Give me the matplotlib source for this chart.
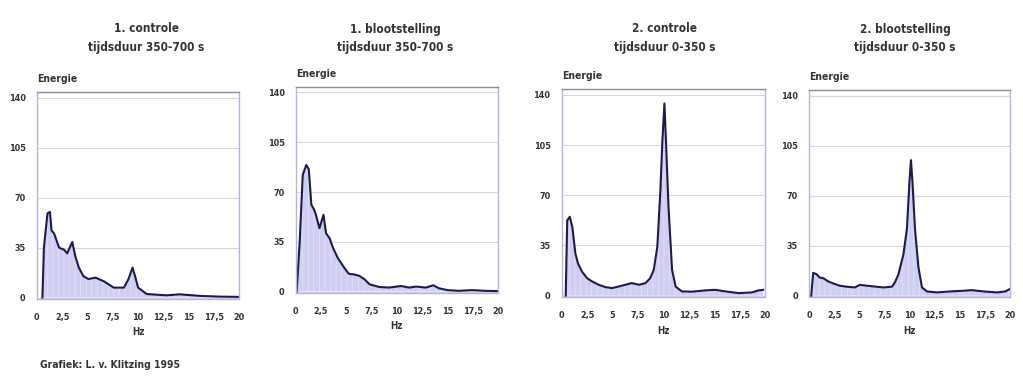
import matplotlib
matplotlib.use("Agg")
import matplotlib.pyplot as plt

plt.rcParams["font.family"] = ["DejaVu Sans"]
plt.rcParams["font.stretch"] = "condensed"
plt.rcParams["hatch.linewidth"] = 0.5

LINE, FILL, FRAME, TXT = "#1c1c4a", "#cfcff2", "#b4b4e2", "#333333"

titles = [("1. controle", "tijdsduur 350-700 s"), ("1. blootstelling", "tijdsduur 350-700 s"),
          ("2. controle", "tijdsduur 0-350 s"), ("2. blootstelling", "tijdsduur 0-350 s")]

# Hz / energie
hz1 = [0.55, 0.7, 1.05, 1.3, 1.45, 1.7, 2.2, 2.7, 3.0, 3.5, 3.8, 4.15, 4.6, 5.1, 5.8, 6.6,
       7.6, 8.6, 9.05, 9.45, 9.7, 10.0, 10.85, 12.8, 14.1, 16.1, 18.0, 19.9]
e1 = [0, 35, 59, 60, 47, 45, 35, 33.5, 31, 39, 29, 21, 15, 13, 14, 11.5,
      7, 7, 13, 21, 15, 7, 2.5, 1.6, 2.3, 1.2, 0.7, 0.5]

hz2 = [0.1, 0.4, 0.7, 1.05, 1.3, 1.55, 1.8, 2.0, 2.35, 2.75, 3.0, 3.35, 3.7, 4.15, 4.8,
       5.25, 5.8, 6.3, 6.8, 7.3, 8.25, 9.25, 10.4, 11.2, 11.9, 12.85, 13.6, 14.15, 15.0,
       16.1, 17.4, 18.75, 19.9]
e2 = [0, 35, 82, 89, 86, 61, 58, 54, 44.5, 54, 41, 37.5, 30.6, 23.7, 16.7,
      12.5, 12, 11, 8.6, 5.1, 3.2, 2.8, 3.9, 2.8, 3.5, 2.8, 4.4, 2.3, 1,
      0.5, 1, 0.5, 0.3]

hz3 = [0.4, 0.55, 0.8, 1.05, 1.35, 1.6, 2.0, 2.5, 3.0, 3.65, 4.3, 4.95, 5.6, 6.25, 6.9,
       7.6, 8.25, 8.7, 9.05, 9.4, 9.7, 9.9, 10.1, 10.25, 10.5, 10.85, 11.2, 11.8, 12.8,
       14.1, 15.1, 16.1, 17.4, 18.7, 19.35, 19.8]
e3 = [0, 52.5, 55, 48, 29.5, 22.6, 16.8, 12.2, 9.9, 7.6, 6, 5.3, 6.4, 7.6, 8.8,
      7.6, 8.8, 12.2, 18, 34, 73, 108, 134, 108, 62, 18, 6.4, 3, 2.8,
      3.7, 4.1, 3, 1.8, 2.3, 3.7, 4.1]

hz4 = [0.2, 0.4, 0.75, 1.05, 1.4, 1.9, 2.4, 3.05, 3.75, 4.55, 5.05, 5.75, 6.4, 7.4, 8.25,
       8.55, 8.9, 9.4, 9.75, 10.0, 10.15, 10.3, 10.55, 10.9, 11.25, 11.75, 12.75, 14.05,
       15.4, 16.2, 17.4, 18.75, 19.55, 20.0]
e4 = [0, 16, 15, 12.7, 12.3, 10, 8.6, 7, 6.3, 5.8, 7.6, 7, 6.5, 5.8, 6.3,
      9.3, 15, 29, 47, 80, 95, 80, 47, 19.7, 5.8, 3, 2.3, 3,
      3.5, 3.9, 3, 2.3, 3, 4.6]

series = [(hz1, e1), (hz2, e2), (hz3, e3), (hz4, e4)]

xticks = [0, 2.5, 5, 7.5, 10, 12.5, 15, 17.5, 20]
xlabels = ["0", "2,5", "5", "7,5", "10", "12,5", "15", "17,5", "20"]
yticks = [0, 35, 70, 105, 140]

# axes boxes in figure fractions (left, bottom, width, height) and title centres (px)
boxes = [(0.036, 0.211, 0.198, 0.546), (0.289, 0.227, 0.198, 0.544),
         (0.549, 0.216, 0.199, 0.549), (0.791, 0.216, 0.196, 0.546)]
title_x = [146, 395, 665, 905]

fig = plt.figure(figsize=(10.23, 3.79), dpi=100)

for (hz, e), box, (t1, t2), tx in zip(series, boxes, titles, title_x):
    ax = fig.add_axes(box)
    ax.fill_between(hz, e, 0, color=FILL, hatch="|||", edgecolor="#e4e4f8", lw=0)
    ax.plot(hz, e, color=LINE, lw=1.5)
    ax.set_xlim(0, 20)
    ax.set_ylim(-1, 144)
    ax.set_yticks(yticks)
    ax.set_xticks(xticks)
    ax.set_xticklabels(xlabels)
    ax.tick_params(length=0, labelsize=6.5, colors=TXT)
    ax.tick_params(axis="x", pad=10)
    ax.tick_params(axis="y", pad=8)
    for lab in ax.get_xticklabels() + ax.get_yticklabels():
        lab.set_fontweight("bold")
    ax.grid(axis="y", color="#d8d8d8", lw=0.8)
    ax.set_axisbelow(True)
    for s in ax.spines.values():
        s.set_color(FRAME)
        s.set_linewidth(1.0)
    ax.spines["top"].set_color("#8a8aa0")
    ax.set_xlabel("Hz", fontsize=7, fontweight="bold", color=TXT, labelpad=4)
    ax.text(0, 1.04, "Energie", transform=ax.transAxes, fontsize=7.5,
            fontweight="bold", color=TXT, va="bottom", ha="left")
    fig.text(tx / 1023, 1 - 29 / 379, t1, ha="center", va="center", fontsize=8.5,
             fontweight="bold", color=TXT)
    fig.text(tx / 1023, 1 - 47 / 379, t2, ha="center", va="center", fontsize=8.5,
             fontweight="bold", color=TXT)

fig.text(0.039, 0.037, "Grafiek: L. v. Klitzing 1995", fontsize=7.5,
         fontweight="bold", color=TXT, ha="left", va="center")

fig.savefig("out.png", dpi=100, facecolor="white")
